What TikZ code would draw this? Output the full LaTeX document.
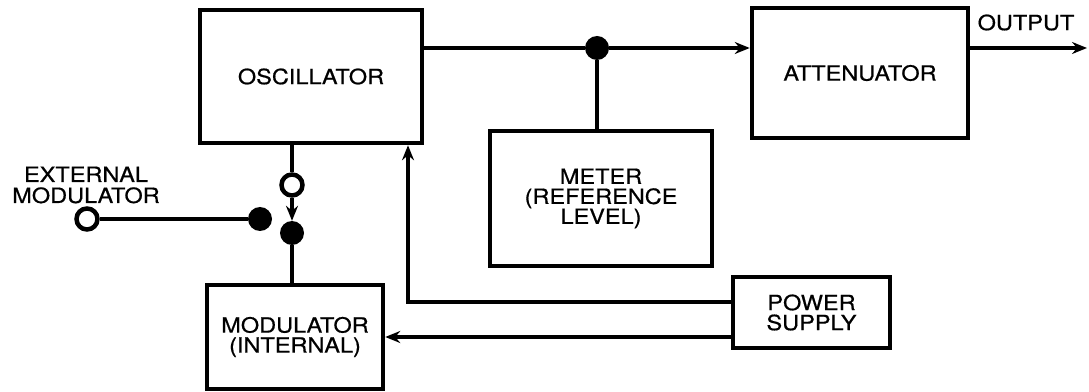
\documentclass[tikz,border=0pt]{standalone}
\usepackage{fontspec}
\newfontfamily\diafont[FakeStretch=1.12, FakeBold=0.6]{TeX Gyre Heros}
\usetikzlibrary{positioning, arrows.meta, calc}

\begin{document}
\begin{tikzpicture}[
        x=1pt, y=1pt,
        blk/.style={rectangle, draw, line width=4.5pt, align=center, inner sep=0pt,
                    font=\diafont\fontsize{21}{20}\selectfont},
        lbl/.style={align=center, inner sep=0pt, font=\diafont\fontsize{21}{21}\selectfont},
        wire/.style={line width=3.5pt},
        arrow/.style={wire, -{Stealth[length=15pt, width=12pt, inset=5pt]}},
        dot/.style={circle, fill, minimum size=24pt, inner sep=0pt},
        hole/.style={circle, draw, line width=4.5pt, fill=white, minimum size=21pt, inner sep=0pt}
      ]
        \useasboundingbox (0,0) rectangle (1089,391);

        % blocks
        \node[blk, minimum width=222pt, minimum height=133pt] (osc) at (311,314.5) {OSCILLATOR};
        \node[blk, minimum width=216pt, minimum height=130pt] (att) at (860,318) {ATTENUATOR};
        \node[blk, minimum width=222pt, minimum height=135pt] (meter) at (601,192.5) {METER\\(REFERENCE\\LEVEL)};
        \node[blk, minimum width=176pt, minimum height=104pt] (mod) at (295,54) {MODULATOR\\(INTERNAL)};
        \node[blk, minimum width=157pt, minimum height=71pt] (psu) at (811.5,78.5) {POWER\\SUPPLY};

        % junctions and switch contacts
        \node[dot] (junc) at (597,343) {};
        \node[hole] (sw) at (292,206) {};
        \node[dot] (pole) at (292,158) {};
        \node[dot] (ext) at (260,172) {};
        \node[hole] (jack) at (87,172) {};

        % labels
        \node[lbl] (extlbl) at (86,206) {EXTERNAL\\MODULATOR};
        \node[lbl] (outlbl) at (1026,368.5) {OUTPUT};

        \coordinate (out) at (1087,343);
        \coordinate (fb) at (408,89);

        \draw[wire] (osc.east |- junc) -- (junc);
        \draw[arrow] (junc) -- (att.west |- junc);
        \draw[wire] (junc) -- (meter.north -| junc);
        \draw[arrow] (att.east |- out) -- (out);
        \draw[wire] (osc.south -| sw) -- (sw);
        \draw[arrow] (sw) -- (pole);
        \draw[wire] (pole) -- (mod.north -| pole);
        \draw[wire] (jack) -- (ext);
        \draw[arrow] (psu.west |- fb) -- (fb) -- (osc.south -| fb);
        \draw[arrow] (psu.west |- mod) -- (mod.east);
      \end{tikzpicture}
\end{document}
